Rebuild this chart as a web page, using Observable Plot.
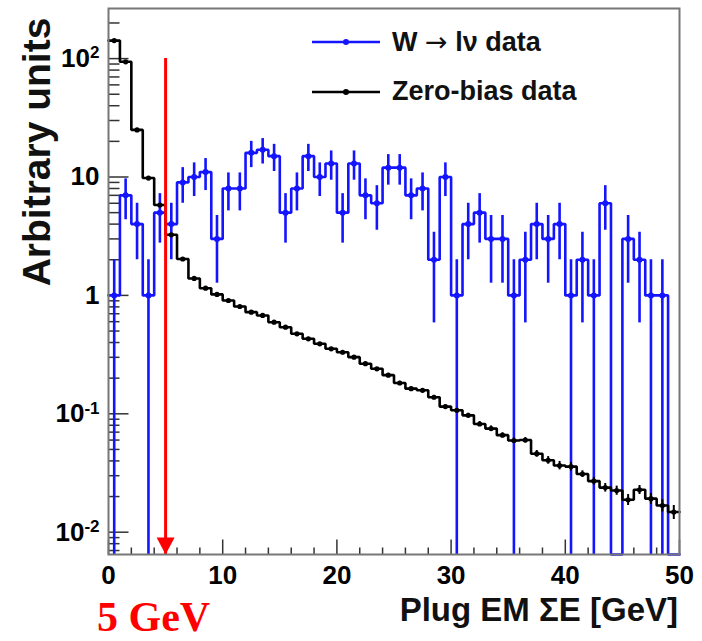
<!DOCTYPE html>
<html><head><meta charset="utf-8">
<script src="https://cdn.jsdelivr.net/npm/d3@7"></script>
<script src="https://cdn.jsdelivr.net/npm/@observablehq/plot@0.6"></script>
<style>
html,body{margin:0;padding:0;background:#fff;}
#wrap{position:relative;width:702px;height:641px;overflow:hidden;font-family:"Liberation Sans",Arial,Helvetica,sans-serif;}
.ov{position:absolute;white-space:nowrap;line-height:1;}
.arr{font-family:"DejaVu Sans",sans-serif;font-weight:normal;}
</style></head><body><div id="wrap"></div>
<script>
// ---- data (1 GeV bins from 0 to 50) ----
const binLow = d3.range(0, 50);
const wData = [1,7,4,1,5,4,9,10,11,3, 8,8,16,17,15,5,8,15,10,13, 5,13,7,6,12,12,7,8,2,10, 1,4,5,3,3,1,2,4,3,4, 1,2,1,6,0,3,2,1,1,0];
const zbData = [142,94,25,9.8,5.8,3.25,2.03,1.39,1.15,1.02, 0.906,0.806,0.722,0.677,0.594,0.539,0.474,0.43,0.39,0.354, 0.331,0.301,0.265,0.24,0.212,0.182,0.163,0.158,0.138,0.115, 0.107,0.097,0.082,0.075,0.066,0.0595,0.06,0.046,0.0405,0.0366, 0.0358,0.031,0.027,0.0238,0.0225,0.0188,0.0228,0.0192,0.0168,0.0148];
const zbErr = [1,0.8,0.3,0.1,0.07,0.04,0.03,0.02,0.02,0.02, 0.015,0.014,0.013,0.012,0.011,0.01,0.01,0.009,0.009,0.008, 0.008,0.007,0.007,0.006,0.006,0.006,0.005,0.005,0.005,0.004, 0.004,0.004,0.004,0.004,0.003,0.003,0.003,0.003,0.003,0.003, 0.003,0.002,0.002,0.002,0.002,0.002,0.002,0.002,0.002,0.002];
const xTicks = [0,10,20,30,40,50];
const xMinorTicks = [2,4,6,8,12,14,16,18,22,24,26,28,32,34,36,38,42,44,46,48];
const yTicks = [0.01,0.1,1,10,100];
const yTickLabels = ["10^-2","10^-1","1","10","10^2"];
const yDomain = [0.00648, 265];
const cutValue = 5, arrowTop = 100;
const legendLabels = ["W <span class='arr'>\u2192</span> l\u03bd data", "Zero-bias data"];
const legendColors = ["#1414ff", "#000000"];
const xTitle = "Plug EM \u03a3E [GeV]";
const yTitle = "Arbitrary units";
const cutLabel = "5 GeV";

const blue = legendColors[0], black = legendColors[1], red = "#ff0000";
const yMin = yDomain[0];
const yMinor = [];
[0.001,0.01,0.1,1,10,100].forEach(dec => [2,3,4,5,6,7,8,9].forEach(m => {const v = dec*m; if (v > yDomain[0] && v < yDomain[1]) yMinor.push(v);}));

function steps(vals) {
  const pts = [];
  vals.forEach((v, i) => { const y = v > 0 ? v : yMin; pts.push({x: binLow[i], y}, {x: binLow[i] + 1, y}); });
  return pts;
}
const wSteps = steps(wData), zbSteps = steps(zbData);
const wPts = wData.map((v, i) => ({x: binLow[i] + 0.5, v})).filter(d => d.v > 0);
const wErr = wPts.map(d => ({x: d.x, y1: Math.max(d.v - Math.sqrt(d.v), yMin), y2: d.v + Math.sqrt(d.v)}));
const zbPts = zbData.map((v, i) => ({x: binLow[i] + 0.5, v, y1: Math.max(v - zbErr[i], yMin), y2: v + zbErr[i]}));

const vTick = L => ({draw(ctx) { ctx.moveTo(0, 0); ctx.lineTo(0, -L); }});
const hTick = L => ({draw(ctx) { ctx.moveTo(0, 0); ctx.lineTo(L, 0); }});
const arrowHead = {draw(ctx) { ctx.moveTo(-9, -17); ctx.lineTo(9, -17); ctx.lineTo(0, 0); ctx.closePath(); }};

const chart = Plot.plot({
  width: 702, height: 641,
  marginLeft: 108, marginRight: 23, marginTop: 8, marginBottom: 87,
  style: {fontFamily: "'Liberation Sans', Arial, sans-serif", fontSize: "26px", fontWeight: "bold", background: "white", color: "black", overflow: "visible"},
  x: {domain: [0, 50]},
  y: {type: "log", domain: yDomain},
  marks: [
    Plot.axisX(xTicks, {tickSize: 0, tickPadding: 11, label: null, fontSize: 26, fontWeight: "bold"}),
    Plot.axisY(yTicks, {tickSize: 0, tickPadding: 9, label: null, fontSize: 26, fontWeight: "bold",
      tickFormat: d => yTickLabels[yTicks.indexOf(d)]}),
    Plot.dot(xTicks, {x: d => d, frameAnchor: "bottom", symbol: vTick(15), fill: "none", stroke: "#333", strokeWidth: 1.5}),
    Plot.dot(xMinorTicks, {x: d => d, frameAnchor: "bottom", symbol: vTick(7), fill: "none", stroke: "#333", strokeWidth: 1.5}),
    Plot.dot(yTicks, {y: d => d, frameAnchor: "left", symbol: hTick(20), fill: "none", stroke: "#333", strokeWidth: 1.5}),
    Plot.dot(yMinor, {y: d => d, frameAnchor: "left", symbol: hTick(11), fill: "none", stroke: "#333", strokeWidth: 1.5}),
    // W -> l nu data
    Plot.ruleX(wErr, {x: "x", y1: "y1", y2: "y2", stroke: blue, strokeWidth: 2.6}),
    Plot.line(wSteps, {x: "x", y: "y", stroke: blue, strokeWidth: 2.6, strokeLinejoin: "miter"}),
    Plot.dot(wPts, {x: "x", y: "v", r: 3, fill: blue}),
    // zero-bias data
    Plot.ruleX(zbPts, {x: "x", y1: "y1", y2: "y2", stroke: black, strokeWidth: 2}),
    Plot.line(zbSteps, {x: "x", y: "y", stroke: black, strokeWidth: 2.6, strokeLinejoin: "miter"}),
    Plot.dot(zbPts, {x: "x", y: "v", r: 2.6, fill: black}),
    // cut arrow
    Plot.ruleX([cutValue], {x: d => d, y1: yMin, y2: arrowTop, stroke: red, strokeWidth: 3}),
    Plot.dot([cutValue], {x: d => d, frameAnchor: "bottom", symbol: arrowHead, fill: red, stroke: "none"}),
    Plot.frame({stroke: "#777", strokeWidth: 2})
  ]
});

// superscripts on log tick labels
d3.select(chart).selectAll('g[aria-label="y-axis tick label"] text').each(function() {
  const t = this.textContent;
  if (t.includes("^")) {
    const [b, e] = t.split("^");
    const sel = d3.select(this); sel.text(null);
    sel.append("tspan").text(b);
    sel.append("tspan").attr("dy", "-0.5em").attr("font-size", "17px").text(e);
  }
});

const wrap = document.getElementById("wrap");
wrap.appendChild(chart);
chart.style.position = "absolute"; chart.style.left = "0"; chart.style.top = "0";

function ov(html, css) { const d = document.createElement("div"); d.className = "ov"; d.innerHTML = html; Object.assign(d.style, css); wrap.appendChild(d); return d; }

// y title
ov(yTitle, {left: "36px", top: "152px", transform: "translate(-50%,-50%) rotate(-90deg)", fontSize: "39px", fontWeight: "bold", color: "#111"});
// x title
ov(xTitle, {right: "24px", top: "593px", fontSize: "33px", fontWeight: "bold", color: "#111"});
// cut label
ov(cutLabel, {left: "97px", top: "599px", fontSize: "42px", lineHeight: "36px", fontWeight: "bold", color: red, fontFamily: "'Liberation Serif','Times New Roman',serif"});
// legend
const legTops = [42, 92];
legendLabels.forEach((lab, i) => {
  ov(`<svg width="70" height="10" style="display:block"><line x1="1" y1="5" x2="69" y2="5" stroke="${legendColors[i]}" stroke-width="2.6"/><circle cx="35" cy="5" r="3" fill="${legendColors[i]}"/></svg>`,
     {left: "311px", top: (legTops[i] - 5) + "px"});
  ov(lab, {left: "392px", top: (legTops[i] - 14) + "px", fontSize: "27px", fontWeight: "bold", color: "#111"});
});
</script></body></html>
